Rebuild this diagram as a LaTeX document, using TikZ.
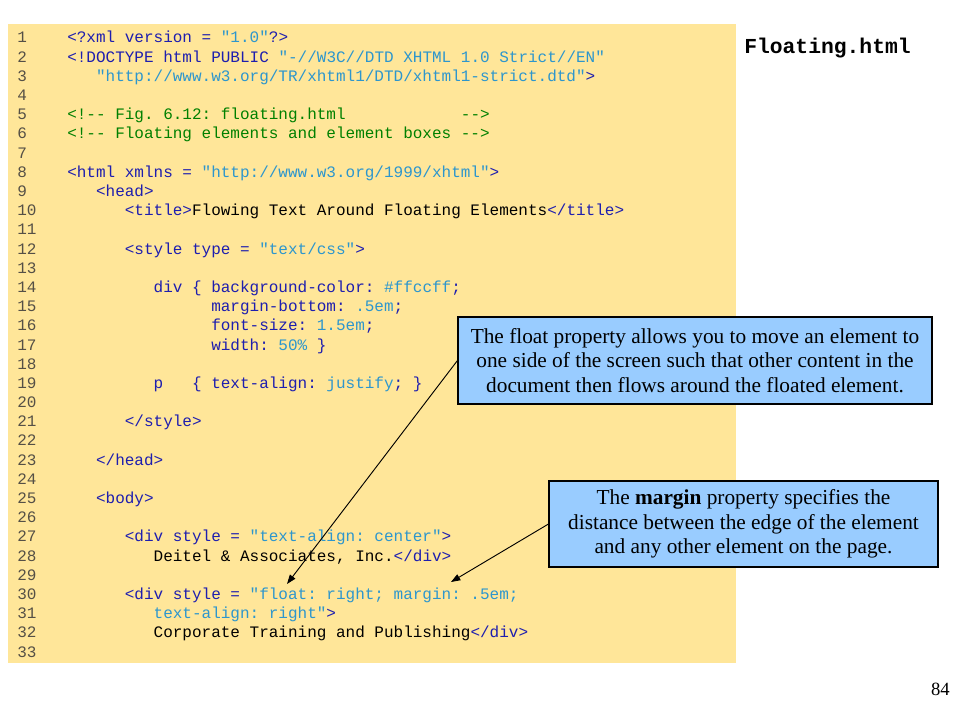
\documentclass[tikz,border=0pt]{standalone}
\usepackage{fontspec}
\setmainfont{Liberation Serif}
\setmonofont{Liberation Mono}
\usetikzlibrary{arrows.meta}
\definecolor{bgyellow}{HTML}{FFE699}
\definecolor{calloutblue}{HTML}{99CCFF}
\definecolor{tagc}{RGB}{30,30,175}
\definecolor{valc}{RGB}{45,150,205}
\definecolor{comc}{RGB}{0,128,0}
\definecolor{numc}{RGB}{85,80,70}
\newcommand{\ctag}[1]{\textcolor{tagc}{#1}}
\newcommand{\cval}[1]{\textcolor{valc}{#1}}
\newcommand{\ccom}[1]{\textcolor{comc}{#1}}
\newcommand{\sps}[1]{\hspace*{#1\dimexpr7.2pt\relax}}
\tikzset{
  codetext/.style={anchor=base west, inner sep=0pt, font=\fontsize{12}{14}\selectfont\ttfamily\frenchspacing},
  numtext/.style={codetext, text=numc},
  callout/.style={draw=black, line width=0.8pt, fill=calloutblue, align=center, inner sep=2pt,
    font=\fontsize{16}{18.4}\selectfont},
  pointer/.style={draw=black, line width=0.7pt, -{Triangle[length=7pt,width=5pt]}}
}
\newcommand{\codeline}[3]{\node[codetext] (l#1) at ({67+#2*9.6},{43+(#1-1)*19.1875}) {#3};}
\begin{document}
\begin{tikzpicture}[x=0.75pt,y=-0.75pt]
\useasboundingbox (0,0) rectangle (960,720);
\fill[white] (0,0) rectangle (960,720);
\fill[bgyellow] (8,24) rectangle (736,663);
% line numbers
\foreach \i in {1,...,33} {
  \node[numtext] (n\i) at (17,{43+(\i-1)*19.1875}) {\i};
}
% code
\codeline{1}{0}{\ctag{<?xml version = }\cval{"1.0"}\ctag{?>}}
\codeline{2}{0}{\ctag{<!DOCTYPE html PUBLIC }\cval{"-//W3C//DTD XHTML 1.0 Strict//EN"}}
\codeline{3}{3}{\cval{"http://www.w3.org/TR/xhtml1/DTD/xhtml1-strict.dtd"}\ctag{>}}
\codeline{5}{0}{\ccom{<!-- Fig. 6.12: floating.html\sps{12}-->}}
\codeline{6}{0}{\ccom{<!-- Floating elements and element boxes -->}}
\codeline{8}{0}{\ctag{<html xmlns = }\cval{"http://www.w3.org/1999/xhtml"}\ctag{>}}
\codeline{9}{3}{\ctag{<head>}}
\codeline{10}{6}{\ctag{<title>}Flowing Text Around Floating Elements\ctag{</title>}}
\codeline{12}{6}{\ctag{<style type = }\cval{"text/css"}\ctag{>}}
\codeline{14}{9}{\ctag{div \{ background-color: }\cval{\#ffccff}\ctag{;}}
\codeline{15}{15}{\ctag{margin-bottom: }\cval{.5em}\ctag{;}}
\codeline{16}{15}{\ctag{font-size: }\cval{1.5em}\ctag{;}}
\codeline{17}{15}{\ctag{width: }\cval{50\%}\ctag{\sps{1}\}}}
\codeline{19}{9}{\ctag{p\sps{3}\{ text-align: }\cval{justify}\ctag{; \}}}
\codeline{21}{6}{\ctag{</style>}}
\codeline{23}{3}{\ctag{</head>}}
\codeline{25}{3}{\ctag{<body>}}
\codeline{27}{6}{\ctag{<div style = }\cval{"text-align: center"}\ctag{>}}
\codeline{28}{9}{Deitel \& Associates, Inc.\ctag{</div>}}
\codeline{30}{6}{\ctag{<div style = }\cval{"float: right; margin: .5em;}}
\codeline{31}{9}{\cval{text-align: right"}\ctag{>}}
\codeline{32}{9}{Corporate Training and Publishing\ctag{</div>}}
% title and page number
\node[anchor=base west, inner sep=0pt, font=\fontsize{16}{18}\selectfont\ttfamily\bfseries] (title) at (744,54) {Floating.html};
\node[anchor=base east, inner sep=0pt, font=\fontsize{14}{16}\selectfont] (page) at (950,695) {84};
% callouts
\node[callout, minimum width=355.5pt, minimum height=65.25pt] (c1) at (695,360.5)
  {The float property allows you to move an element to\\one side of the screen such that other content in the\\document then flows around the floated element.};
\node[callout, minimum width=291.75pt, minimum height=64.5pt] (c2) at (743.5,524)
  {The \textbf{margin} property specifies the\\distance between the edge of the element\\and any other element on the page.};
\coordinate (t1) at (287,584);
\coordinate (t2) at (451,582);
\draw[pointer] (c1.west) -- (t1);
\draw[pointer] (c2.west) -- (t2);
\end{tikzpicture}
\end{document}
